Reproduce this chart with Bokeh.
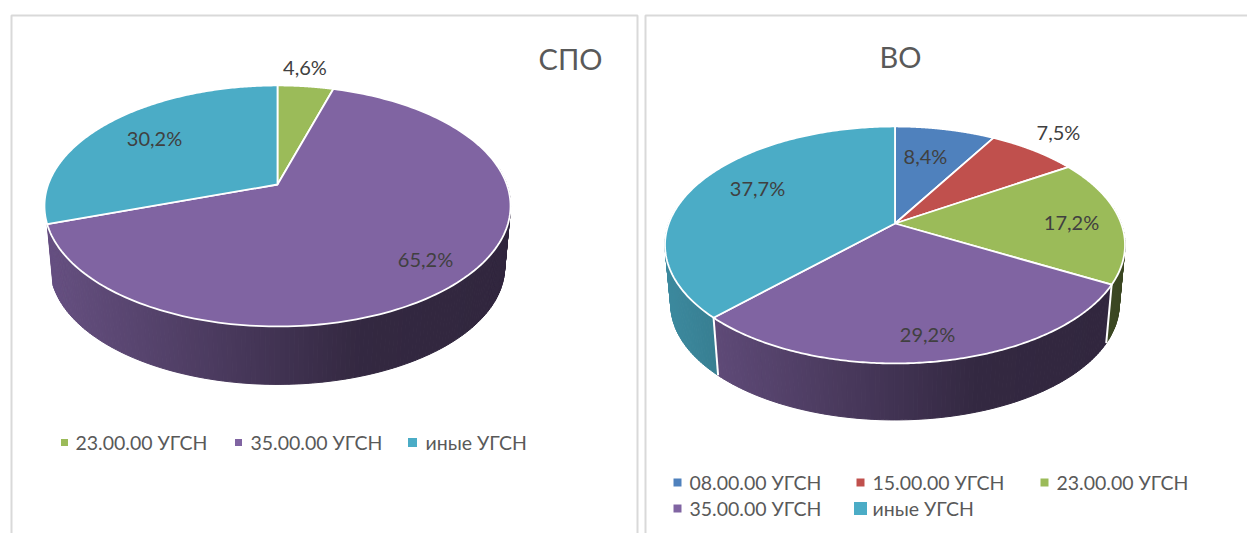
import numpy as np
from bokeh.plotting import figure
from bokeh.models import Range1d
from bokeh.core.properties import value
from bokeh.embed import file_html
from bokeh.resources import INLINE

# ---- data ----
spo_names = ["23.00.00 УГСН", "35.00.00 УГСН", "иные УГСН"]
spo_values = [4.6, 65.2, 30.2]
spo_labels = ["4,6%", "65,2%", "30,2%"]
vo_names = ["08.00.00 УГСН", "15.00.00 УГСН", "23.00.00 УГСН", "35.00.00 УГСН", "иные УГСН"]
vo_values = [8.4, 7.5, 17.2, 29.2, 37.7]
vo_labels = ["8,4%", "7,5%", "17,2%", "29,2%", "37,7%"]

BLUE, RED, GREEN, PURPLE, TEAL = "#4f81bd", "#c0504d", "#9bbb59", "#8064a2", "#4bacc6"
spo_colors = [GREEN, PURPLE, TEAL]
vo_colors = [BLUE, RED, GREEN, PURPLE, TEAL]

FONT = value("Lato")
TEXT_LABEL, TEXT_LEGEND = "#404040", "#595959"

W, H = 1247, 533
p = figure(width=W, height=H, output_backend="svg", toolbar_location=None,
           x_range=Range1d(0, W), y_range=Range1d(H, 0),
           min_border=0, x_axis_type="linear")
p.axis.visible = False
p.grid.visible = False
p.outline_line_color = None
p.background_fill_color = "white"
p.border_fill_color = "white"

# panel frames
for xs, ys in [([11, 11, 637, 637], [533, 15, 15, 533]),
               ([645, 645, 1247], [533, 15, 15])]:
    p.line(xs, ys, line_color="#d9d9d9", line_width=2)


def rgb(c):
    return np.array([int(c[i:i + 2], 16) for i in (1, 3, 5)], float)


def hexc(v):
    return "#%02x%02x%02x" % tuple(int(round(float(a))) for a in v)


def project(theta, cx, cy, rx, b, k, scale=1.0, dy=0.0):
    X, Y = np.sin(theta), np.cos(theta)
    w = 1 + k * Y
    return cx + scale * rx * X / w, cy + dy - scale * b * Y / w


def pie3d(values, colors, cx, cy, rx, b, k, depth, scale):
    total = sum(values)
    edges = np.radians(np.concatenate([[0], np.cumsum(values)]) / total * 360)
    xmin, xmax = cx - rx * 1.02, cx + rx * 1.02
    qx, qy, qc = [], [], []
    segs = []
    walled = []
    for i, col in enumerate(colors):
        a0, a1 = edges[i], edges[i + 1]
        th = np.append(np.arange(a0, a1, np.radians(1.0)), a1)
        part = [(np.cos((t0 + t1) / 2), t0, t1, col) for t0, t1 in zip(th[:-1], th[1:])
                if np.cos((t0 + t1) / 2) < 0.15]
        # a wall that would only show as a sliver at the silhouette is left out
        has_wall = len(part) >= 30
        walled.append(has_wall)
        if has_wall:
            segs.extend(part)
    segs.sort(key=lambda s: -s[0])
    for _, t0, t1, col in segs:
        x0, y0 = project(t0, cx, cy, rx, b, k)
        x1, y1 = project(t1, cx, cy, rx, b, k)
        x2, y2 = project(t1, cx, cy, rx, b, k, scale, depth)
        x3, y3 = project(t0, cx, cy, rx, b, k, scale, depth)
        t = ((x0 + x1) / 2 - xmin) / (xmax - xmin)
        f = np.interp(t, [0, 0.68, 1], [0.80, 0.40, 0.38])
        qx.append([x0, x1, x2, x3])
        qy.append([y0, y1, y2, y3])
        qc.append(hexc(rgb(col) * f))
    p.patches(qx, qy, fill_color=qc, line_color=qc, line_width=1)
    # white seams between two visible walls
    for i in range(1, len(colors)):
        if walled[i - 1] and walled[i]:
            a = edges[i]
            x0, y0 = project(a, cx, cy, rx, b, k)
            x1, y1 = project(a, cx, cy, rx, b, k, scale, depth)
            p.line([x0, x1], [y0, y1], line_color="white", line_width=2)
    # top faces
    fx, fy = [], []
    for i in range(len(colors)):
        th = np.linspace(edges[i], edges[i + 1], 180)
        x, y = project(th, cx, cy, rx, b, k)
        fx.append(np.concatenate([[cx], x]))
        fy.append(np.concatenate([[cy], y]))
    p.patches(fx, fy, fill_color=colors, line_color="white", line_width=1.8, line_join="round")


pie3d(spo_values, spo_colors, 277, 184, 229.3, 116.7, 0.178, 61.5, 0.975)
pie3d(vo_values, vo_colors, 894.5, 223, 226.2, 114.6, 0.181, 60.0, 0.975)

# titles
p.text([570, 900], [58, 56], text=["СПО", "ВО"], text_font=FONT, text_font_size="29px",
       text_color=TEXT_LEGEND, text_align="center", text_baseline="middle")

# data labels
p.text([304.5, 425, 154], [66, 258, 137], text=spo_labels, text_font=FONT, text_font_size="20px",
       text_color=TEXT_LABEL, text_align="center", text_baseline="middle")
p.text([925, 1058, 1071, 927, 757], [155, 131, 221, 333, 187], text=vo_labels, text_font=FONT,
       text_font_size="20px", text_color=TEXT_LABEL, text_align="center", text_baseline="middle")

# legends
p.scatter([64, 238, 412], [442, 442, 442], marker="square", size=[7, 7, 9], fill_color=spo_colors,
          line_color=None)
p.text([75, 250, 425], [442, 442, 442], text=spo_names, text_font=FONT, text_font_size="19.5px",
       text_color=TEXT_LEGEND, text_align="left", text_baseline="middle")

p.scatter([677, 860, 1044, 677, 860], [482, 482, 482, 508, 508], marker="square",
          size=[8, 8, 8, 8, 13], fill_color=vo_colors, line_color=None)
p.text([689, 872, 1056, 689, 872], [482, 482, 482, 508, 508], text=vo_names, text_font=FONT,
       text_font_size="19.5px", text_color=TEXT_LEGEND, text_align="left", text_baseline="middle")

open("out.html", "w").write(file_html(p, INLINE))
